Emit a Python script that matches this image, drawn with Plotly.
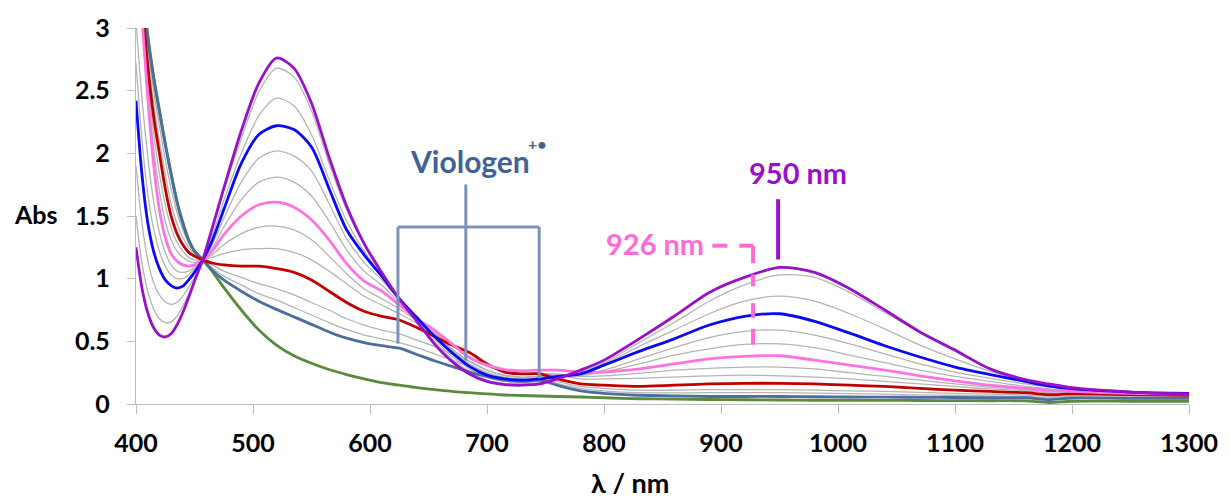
import plotly.graph_objects as go

# ---------------- data ----------------
wavelength_nm = [400, 405, 410, 415, 420, 425, 430, 435, 440, 445, 450, 457,
                 465, 475, 490, 505, 520, 535, 550, 565, 580, 595, 610, 625, 640, 655, 670, 685, 700, 715, 730, 745, 760,
                 780, 800, 830, 860, 890, 920, 950, 980, 1010, 1040, 1070, 1100, 1130, 1160, 1180, 1200, 1250, 1300]

abs_green = [4.05, 3.4, 2.95, 2.62, 2.35, 2.08, 1.84, 1.62, 1.45, 1.31, 1.22, 1.15,
             1.06, 0.93, 0.75, 0.59, 0.47, 0.385, 0.325, 0.275, 0.235, 0.20, 0.17, 0.15, 0.13, 0.115, 0.10, 0.09, 0.08, 0.072, 0.068, 0.064, 0.06,
             0.056, 0.05, 0.042, 0.04, 0.036, 0.034, 0.032, 0.03, 0.03, 0.029, 0.028, 0.027, 0.026, 0.025, 0.012, 0.022, 0.022, 0.022]

abs_steel = [4.05, 3.4, 2.93, 2.6, 2.33, 2.07, 1.83, 1.61, 1.44, 1.31, 1.22, 1.15,
             1.07, 0.99, 0.90, 0.82, 0.755, 0.695, 0.635, 0.575, 0.525, 0.49, 0.465, 0.445, 0.395, 0.345, 0.30, 0.255, 0.22, 0.19, 0.18, 0.19, 0.15,
             0.105, 0.085, 0.07, 0.065, 0.06, 0.06, 0.06, 0.058, 0.056, 0.055, 0.053, 0.052, 0.05, 0.05, 0.035, 0.048, 0.045, 0.045]

abs_gray8 = [4.0, 3.35, 2.85, 2.5, 2.22, 1.95, 1.72, 1.53, 1.39, 1.28, 1.21, 1.15,
             1.09, 1.02, 0.95, 0.88, 0.83, 0.77, 0.71, 0.65, 0.595, 0.55, 0.52, 0.49, 0.45, 0.40, 0.35, 0.30, 0.25, 0.21, 0.20, 0.205, 0.165,
             0.125, 0.105, 0.09, 0.088, 0.09, 0.09, 0.09, 0.087, 0.083, 0.078, 0.073, 0.068, 0.064, 0.06, 0.048, 0.055, 0.053, 0.052]

abs_gray7 = [3.95, 3.3, 2.78, 2.4, 2.1, 1.83, 1.60, 1.44, 1.33, 1.25, 1.20, 1.15,
             1.11, 1.06, 1.01, 0.96, 0.92, 0.87, 0.81, 0.75, 0.68, 0.63, 0.59, 0.56, 0.51, 0.46, 0.40, 0.34, 0.27, 0.23, 0.215, 0.22, 0.18,
             0.14, 0.125, 0.11, 0.11, 0.115, 0.115, 0.115, 0.11, 0.105, 0.10, 0.093, 0.085, 0.078, 0.072, 0.06, 0.065, 0.062, 0.06]

abs_red = [3.9, 3.25, 2.7, 2.3, 2.0, 1.72, 1.50, 1.36, 1.27, 1.21, 1.18, 1.15,
           1.125, 1.11, 1.10, 1.10, 1.08, 1.05, 0.99, 0.90, 0.81, 0.74, 0.70, 0.67, 0.61, 0.54, 0.47, 0.41, 0.32, 0.255, 0.24, 0.24, 0.20,
           0.16, 0.15, 0.14, 0.15, 0.16, 0.165, 0.165, 0.16, 0.15, 0.14, 0.125, 0.11, 0.10, 0.09, 0.075, 0.08, 0.075, 0.07]

abs_gray6 = [3.85, 3.2, 2.62, 2.17, 1.84, 1.59, 1.41, 1.29, 1.22, 1.17, 1.15, 1.15,
             1.17, 1.20, 1.23, 1.24, 1.24, 1.21, 1.15, 1.06, 0.96, 0.86, 0.79, 0.72, 0.645, 0.56, 0.47, 0.38, 0.31, 0.265, 0.245, 0.245, 0.23,
             0.20, 0.20, 0.205, 0.215, 0.225, 0.23, 0.225, 0.215, 0.20, 0.18, 0.16, 0.14, 0.12, 0.105, 0.09, 0.088, 0.08, 0.075]

abs_gray5 = [3.8, 3.15, 2.55, 2.05, 1.70, 1.46, 1.31, 1.22, 1.17, 1.14, 1.13, 1.15,
             1.19, 1.27, 1.36, 1.41, 1.42, 1.39, 1.31, 1.18, 1.04, 0.92, 0.84, 0.76, 0.665, 0.57, 0.47, 0.37, 0.30, 0.26, 0.245, 0.245, 0.24,
             0.22, 0.225, 0.245, 0.27, 0.285, 0.295, 0.295, 0.28, 0.25, 0.22, 0.19, 0.16, 0.135, 0.115, 0.10, 0.095, 0.083, 0.077]

abs_pink = [3.7, 3.1, 2.45, 1.92, 1.55, 1.33, 1.20, 1.14, 1.11, 1.10, 1.11, 1.15,
            1.22, 1.35, 1.50, 1.59, 1.61, 1.57, 1.47, 1.31, 1.12, 0.98, 0.90, 0.79, 0.68, 0.59, 0.48, 0.37, 0.31, 0.275, 0.265, 0.27, 0.27,
            0.255, 0.255, 0.28, 0.32, 0.36, 0.38, 0.385, 0.35, 0.31, 0.27, 0.225, 0.185, 0.15, 0.125, 0.11, 0.10, 0.085, 0.08]

abs_gray4 = [3.05, 2.45, 1.98, 1.62, 1.37, 1.21, 1.11, 1.06, 1.05, 1.06, 1.09, 1.15,
             1.24, 1.41, 1.63, 1.77, 1.81, 1.77, 1.66, 1.46, 1.23, 1.06, 0.95, 0.81, 0.685, 0.56, 0.44, 0.34, 0.27, 0.225, 0.21, 0.22, 0.23,
             0.23, 0.255, 0.32, 0.39, 0.44, 0.475, 0.48, 0.45, 0.39, 0.33, 0.27, 0.22, 0.18, 0.14, 0.12, 0.105, 0.087, 0.08]

abs_gray3 = [2.72, 2.12, 1.68, 1.40, 1.22, 1.10, 1.03, 1.0, 1.0, 1.03, 1.08, 1.15,
             1.27, 1.48, 1.77, 1.96, 2.02, 1.98, 1.86, 1.60, 1.32, 1.13, 0.99, 0.83, 0.69, 0.55, 0.43, 0.32, 0.25, 0.21, 0.20, 0.21, 0.225,
             0.23, 0.27, 0.36, 0.45, 0.53, 0.58, 0.59, 0.55, 0.48, 0.40, 0.32, 0.255, 0.205, 0.16, 0.135, 0.115, 0.09, 0.082]

abs_blue = [2.42, 1.84, 1.45, 1.22, 1.08, 0.99, 0.945, 0.925, 0.94, 0.99, 1.05, 1.15,
            1.30, 1.55, 1.92, 2.15, 2.22, 2.19, 2.05, 1.72, 1.39, 1.19, 1.02, 0.84, 0.69, 0.54, 0.41, 0.30, 0.23, 0.20, 0.19, 0.20, 0.22,
            0.24, 0.31, 0.42, 0.52, 0.63, 0.70, 0.72, 0.66, 0.565, 0.465, 0.375, 0.295, 0.235, 0.18, 0.145, 0.122, 0.095, 0.085]

abs_gray2 = [1.90, 1.45, 1.15, 0.97, 0.87, 0.815, 0.795, 0.81, 0.86, 0.93, 1.01, 1.15,
             1.34, 1.62, 2.00, 2.30, 2.44, 2.38, 2.15, 1.79, 1.46, 1.22, 1.03, 0.84, 0.675, 0.52, 0.38, 0.28, 0.21, 0.18, 0.17, 0.18, 0.21,
             0.25, 0.32, 0.46, 0.59, 0.72, 0.82, 0.86, 0.82, 0.72, 0.60, 0.47, 0.36, 0.26, 0.185, 0.15, 0.124, 0.093, 0.08]

abs_gray1 = [1.50, 1.13, 0.90, 0.76, 0.68, 0.65, 0.655, 0.70, 0.78, 0.88, 0.99, 1.15,
             1.38, 1.70, 2.12, 2.49, 2.68, 2.61, 2.34, 1.92, 1.55, 1.27, 1.04, 0.84, 0.665, 0.50, 0.36, 0.26, 0.19, 0.165, 0.16, 0.17, 0.20,
             0.26, 0.33, 0.49, 0.65, 0.82, 0.95, 1.03, 1.01, 0.89, 0.73, 0.57, 0.42, 0.275, 0.19, 0.155, 0.127, 0.095, 0.08]

abs_purple = [1.25, 0.93, 0.73, 0.61, 0.55, 0.535, 0.56, 0.63, 0.73, 0.85, 0.98, 1.15,
              1.40, 1.72, 2.18, 2.56, 2.76, 2.68, 2.40, 1.97, 1.58, 1.28, 1.05, 0.84, 0.66, 0.48, 0.34, 0.24, 0.18, 0.155, 0.15, 0.16, 0.20,
              0.27, 0.35, 0.52, 0.70, 0.89, 1.01, 1.09, 1.05, 0.92, 0.75, 0.575, 0.43, 0.28, 0.195, 0.16, 0.13, 0.095, 0.08]

x_ticks = [400, 500, 600, 700, 800, 900, 1000, 1100, 1200, 1300]
y_ticks = [0, 0.5, 1, 1.5, 2, 2.5, 3]

# ---------------- styling ----------------
FONT = "Lato"
GRAY = "#B4B4B4"
AXIS = "#BDBDBD"

series = [
    (abs_gray8, GRAY, 1.3), (abs_gray7, GRAY, 1.3), (abs_gray6, GRAY, 1.3), (abs_gray5, GRAY, 1.3),
    (abs_gray4, GRAY, 1.3), (abs_gray3, GRAY, 1.3), (abs_gray2, GRAY, 1.3), (abs_gray1, GRAY, 1.3),
    (abs_green, "#5A8A3C", 2.8), (abs_steel, "#4C6E9C", 2.8), (abs_red, "#C00000", 2.8),
    (abs_pink, "#FF73E0", 2.8), (abs_blue, "#0A0AF5", 2.8), (abs_purple, "#9A10C8", 2.8),
]

fig = go.Figure()
for vals, col, w in series:
    fig.add_trace(go.Scatter(x=wavelength_nm, y=vals, mode="lines",
                             line=dict(color=col, width=w, shape="spline", smoothing=0.8),
                             hoverinfo="skip", showlegend=False))

fig.update_layout(
    width=1230, height=499,
    margin=dict(l=136, r=33, t=24, b=95),
    paper_bgcolor="white", plot_bgcolor="white",
    font=dict(family=FONT, color="black"),
    showlegend=False,
)
fig.update_xaxes(range=[400, 1300], tickvals=x_ticks, ticks="outside", ticklen=9, tickcolor=AXIS,
                 showline=True, linecolor=AXIS, linewidth=1.3, showgrid=False, zeroline=False,
                 tickfont=dict(family=FONT, size=25, color="black", weight="bold"), ticklabelstandoff=8)
fig.update_yaxes(range=[0, 3], tickvals=y_ticks, ticks="outside", ticklen=8, tickcolor=AXIS,
                 showline=True, linecolor=AXIS, linewidth=1.3, showgrid=False, zeroline=False,
                 tickfont=dict(family=FONT, size=25, color="black", weight="bold"), ticklabelstandoff=12)

# ---------------- annotations ----------------
BR = "#7C92B8"
shapes = [
    # Viologen bracket
    dict(type="line", x0=623.9, x1=623.9, y0=0.481, y1=1.413, line=dict(color=BR, width=3)),
    dict(type="line", x0=623.9, x1=744.6, y0=1.413, y1=1.413, line=dict(color=BR, width=3)),
    dict(type="line", x0=744.6, x1=744.6, y0=0.205, y1=1.413, line=dict(color=BR, width=3)),
    dict(type="line", x0=681.9, x1=681.9, y0=0.347, y1=1.752, line=dict(color=BR, width=3)),
    # 950 nm marker
    dict(type="line", x0=948.8, x1=948.8, y0=1.153, y1=1.634, line=dict(color="#9A10C8", width=4)),
]
PINK = "#FF6AD5"
for seg in [((892.6, 1.263), (905.3, 1.263)), ((915.7, 1.263), (927.4, 1.263)), ((927.4, 1.263), (927.4, 1.123)),
            ((927.4, 1.034), (927.4, 0.939)), ((927.4, 0.805), (927.4, 0.687)), ((927.4, 0.600), (927.4, 0.474))]:
    (xa, ya), (xb, yb) = seg
    shapes.append(dict(type="line", x0=xa, x1=xb, y0=ya, y1=yb, line=dict(color=PINK, width=4)))
fig.update_layout(shapes=shapes)

ann = [
    dict(x=632.5, y=1.94, text="Viologen", xanchor="left", yanchor="middle",
         font=dict(family=FONT, size=30, color="#3F6396", weight="bold")),
    dict(x=733.5, y=2.08, text="+•", xanchor="left", yanchor="middle",
         font=dict(family=FONT, size=16, color="#3F6396", weight="bold")),
    dict(x=965.8, y=1.85, text="950 nm", xanchor="center", yanchor="middle",
         font=dict(family=FONT, size=29, color="#9A10C8", weight="bold")),
    dict(x=844.0, y=1.28, text="926 nm", xanchor="center", yanchor="middle",
         font=dict(family=FONT, size=29, color=PINK, weight="bold")),
]
for a in ann:
    a.update(xref="x", yref="y", showarrow=False)
ann += [
    dict(x=(35 - 136) / 1061, y=(404 - 212) / 380, xref="paper", yref="paper", text="Abs",
         showarrow=False, xanchor="center", yanchor="middle",
         font=dict(family=FONT, size=25, color="black", weight="bold")),
    dict(x=(634 - 136) / 1061, y=(404 - 483) / 380, xref="paper", yref="paper", text="λ / nm",
         showarrow=False, xanchor="center", yanchor="middle",
         font=dict(family=FONT, size=27, color="black", weight="bold")),
]
fig.update_layout(annotations=ann)

fig.write_html("out.html")
